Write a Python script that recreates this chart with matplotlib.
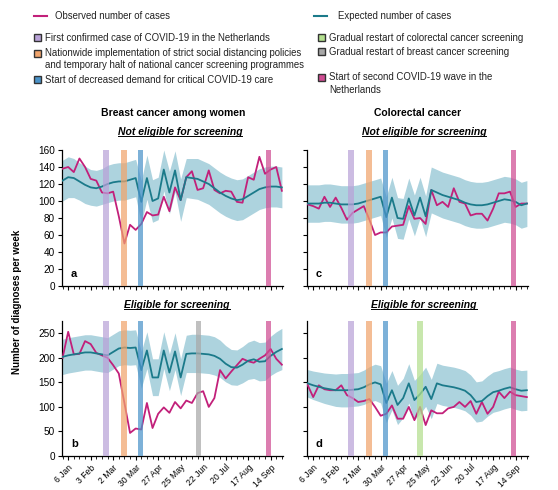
import matplotlib
matplotlib.use('Agg')
import matplotlib.pyplot as plt
import numpy as np
from matplotlib.patches import Rectangle
from matplotlib.lines import Line2D

plt.rcParams['font.family'] = ['Liberation Sans', 'DejaVu Sans']

# ---------------- data ----------------
weeks = np.arange(40)  # week 0 = 30 Dec 2019
tick_weeks = [1, 5, 9, 13, 17, 21, 25, 29, 33, 37]
tick_labels = ['6 Jan', '3 Feb', '2 Mar', '30 Mar', '27 Apr', '25 May',
               '22 Jun', '20 Jul', '17 Aug', '14 Sep']

# event weeks (position of shaded vertical bars)
ev_first_case = 7.7
ev_lockdown = 10.9
ev_icu_decline = 13.9
ev_crc_restart = 20.0
ev_bc_restart = 24.2
ev_second_wave = 36.6

# a: breast cancer, not eligible
a_obs = [138, 140, 134, 150, 140, 126, 124, 110, 109, 111, 82, 50, 72, 66, 73, 87, 83, 84, 105, 88,
         116, 101, 128, 135, 113, 115, 136, 113, 109, 112, 111, 99, 98, 128, 125, 152, 132, 137, 140, 112]
a_exp = [124, 128, 127, 123, 119, 116, 115, 117, 120, 122, 123, 123, 125, 127, 99, 127, 100, 103, 137, 110,
         136, 101, 128, 127, 126, 123, 120, 115, 110, 106, 103, 101, 102, 106, 110, 114, 116, 117, 117, 116]
a_lo = [100, 104, 104, 101, 97, 95, 94, 96, 98, 100, 101, 101, 103, 105, 74, 102, 75, 78, 112, 85,
        111, 76, 104, 103, 102, 99, 96, 91, 86, 82, 79, 77, 78, 82, 86, 90, 92, 93, 93, 92]
a_hi = [148, 152, 150, 145, 141, 137, 136, 138, 142, 144, 145, 145, 147, 149, 124, 154, 125, 128, 160, 135,
        159, 126, 150, 150, 150, 147, 144, 139, 134, 130, 127, 125, 126, 130, 134, 138, 140, 141, 141, 140]

# b: breast cancer, eligible
b_obs = [200, 253, 207, 208, 234, 228, 210, 205, 200, 185, 168, 108, 47, 56, 54, 108, 57, 86, 99, 88,
         110, 97, 113, 108, 128, 132, 100, 118, 175, 158, 172, 185, 198, 193, 190, 198, 205, 218, 198, 186]
b_exp = [202, 205, 207, 209, 211, 211, 209, 207, 205, 212, 219, 221, 220, 221, 175, 215, 160, 160, 215, 170,
         213, 160, 208, 209, 209, 208, 207, 204, 198, 188, 181, 180, 186, 194, 197, 192, 193, 204, 212, 218]
b_lo = [166, 169, 171, 173, 175, 175, 173, 171, 170, 177, 184, 186, 185, 186, 138, 178, 123, 123, 178, 133,
        176, 123, 170, 170, 170, 169, 168, 165, 160, 151, 145, 144, 149, 156, 158, 153, 154, 164, 171, 176]
b_hi = [238, 241, 243, 245, 247, 247, 245, 243, 241, 248, 255, 257, 256, 257, 213, 253, 198, 198, 253, 208,
        251, 198, 246, 248, 248, 247, 246, 243, 236, 225, 217, 216, 223, 232, 236, 231, 232, 244, 253, 260]

# c: colorectal cancer, not eligible
c_obs = [96, 94, 91, 105, 93, 104, 92, 78, 86, 90, 94, 78, 60, 63, 63, 70, 71, 72, 94, 79,
         80, 73, 113, 95, 99, 93, 115, 99, 97, 83, 85, 85, 77, 91, 109, 109, 111, 93, 97, 97]
c_exp = [97, 97, 97, 98, 98, 97, 96, 96, 96, 97, 99, 101, 103, 105, 81, 104, 80, 79, 103, 83,
         104, 82, 113, 110, 107, 105, 103, 101, 98, 96, 95, 95, 96, 98, 100, 102, 101, 99, 95, 97]
c_lo = [75, 75, 75, 76, 76, 75, 74, 74, 74, 75, 77, 79, 81, 83, 57, 80, 56, 55, 79, 59,
        80, 58, 86, 83, 80, 78, 76, 74, 71, 69, 68, 68, 69, 71, 73, 75, 74, 72, 68, 70]
c_hi = [119, 119, 119, 120, 120, 119, 118, 118, 118, 119, 121, 123, 125, 127, 105, 128, 104, 103, 127, 107,
        128, 106, 140, 137, 134, 132, 130, 128, 125, 123, 122, 122, 123, 125, 127, 129, 128, 126, 122, 124]

# d: colorectal cancer, eligible
d_obs = [145, 120, 144, 136, 134, 134, 144, 124, 118, 110, 112, 116, 100, 82, 86, 103, 76, 76, 100, 73,
         100, 63, 93, 87, 87, 97, 100, 110, 100, 112, 86, 110, 86, 100, 131, 118, 131, 124, 122, 120]
d_exp = [148, 144, 141, 138, 136, 134, 134, 134, 135, 136, 140, 146, 150, 146, 108, 134, 104, 118, 148, 114,
         126, 141, 116, 148, 144, 142, 140, 137, 133, 124, 110, 112, 122, 130, 133, 137, 140, 136, 133, 134]
d_lo = [120, 115, 111, 107, 104, 101, 100, 100, 101, 102, 105, 110, 113, 108, 68, 94, 64, 78, 108, 74,
        86, 101, 76, 107, 103, 101, 99, 96, 92, 83, 69, 71, 81, 89, 92, 96, 99, 95, 92, 93]
d_hi = [176, 173, 171, 169, 168, 167, 168, 168, 169, 170, 175, 182, 187, 184, 148, 174, 144, 158, 188, 154,
        166, 181, 156, 189, 185, 183, 181, 178, 174, 165, 151, 153, 163, 171, 174, 178, 181, 177, 174, 175]

# ---------------- style ----------------
OBS_C = '#c2207a'
EXP_C = '#1b7a8a'
BAND_C = '#add3de'
C_FIRST = '#b9a2d8'
C_LOCK = '#f0a46c'
C_ICU = '#4b93c9'
C_CRC = '#b3df8e'
C_BC = '#a8a8a8'
C_WAVE = '#cf4c92'

W, H = 558, 490
fig = plt.figure(figsize=(W / 100, H / 100), dpi=100)


def fx(px):
    return px / W


def fy(py):
    return 1 - py / H


def make_panel(left, top, right, bottom, ylim, yticks, obs, exp, lo, hi, events, letter,
               show_xlabels, show_ylabels):
    ax = fig.add_axes([fx(left), fy(bottom), fx(right) - fx(left), fy(top) - fy(bottom)])
    ax.fill_between(weeks, lo, hi, color=BAND_C, lw=0, zorder=1)
    ax.plot(weeks, obs, color=OBS_C, lw=1.3, zorder=3)
    ax.plot(weeks, exp, color=EXP_C, lw=1.3, zorder=4)
    for pos, col in events:
        ax.axvspan(pos - 0.48, pos + 0.48, color=col, alpha=0.72, lw=0, zorder=5)
    ax.set_xlim(-0.1, 39.2)
    ax.set_ylim(*ylim)
    ax.set_yticks(yticks)
    for s in ['top', 'right']:
        ax.spines[s].set_visible(False)
    for s in ['left', 'bottom']:
        ax.spines[s].set_linewidth(0.9)
    ax.set_xticks(tick_weeks)
    ax.set_xticks(weeks, minor=True)
    ax.tick_params(axis='x', which='major', length=3, width=0.8, direction='out', pad=2)
    ax.tick_params(axis='x', which='minor', length=2, width=0.6, direction='out')
    ax.tick_params(axis='y', which='major', length=3, width=0.8, direction='out', labelsize=7.2, pad=2)
    if show_xlabels:
        ax.set_xticklabels(tick_labels, rotation=45, ha='right', rotation_mode='anchor', fontsize=6.2)
    else:
        ax.set_xticklabels([])
    if not show_ylabels:
        ax.set_yticklabels([])
    ax.text(0.04, 0.05, letter, transform=ax.transAxes, fontsize=8, fontweight='bold',
            ha='left', va='bottom', zorder=6)
    return ax


ev_a = [(ev_first_case, C_FIRST), (ev_lockdown, C_LOCK), (ev_icu_decline, C_ICU), (ev_second_wave, C_WAVE)]
ev_b = ev_a + [(ev_bc_restart, C_BC)]
ev_d = ev_a + [(ev_crc_restart, C_CRC)]

make_panel(62, 150, 283, 286, (0, 160), range(0, 161, 20), a_obs, a_exp, a_lo, a_hi, ev_a, 'a', False, True)
make_panel(307, 150, 528, 286, (0, 160), range(0, 161, 20), c_obs, c_exp, c_lo, c_hi, ev_a, 'c', False, False)
make_panel(62, 321, 283, 456, (0, 275), range(0, 251, 50), b_obs, b_exp, b_lo, b_hi, ev_b, 'b', True, True)
make_panel(307, 321, 528, 456, (0, 275), range(0, 251, 50), d_obs, d_exp, d_lo, d_hi, ev_d, 'd', True, False)

# titles
fig.text(fx(173), fy(113), 'Breast cancer among women', ha='center', va='center', fontsize=7.5, fontweight='bold')
fig.text(fx(418), fy(113), 'Colorectal cancer', ha='center', va='center', fontsize=7.5, fontweight='bold')

sub = []
sub.append(fig.text(fx(180), fy(132), 'Not eligible for screening', ha='center', va='center',
                    fontsize=7.5, fontweight='bold', style='italic'))
sub.append(fig.text(fx(424), fy(132), 'Not eligible for screening', ha='center', va='center',
                    fontsize=7.5, fontweight='bold', style='italic'))
sub.append(fig.text(fx(177), fy(305), 'Eligible for screening', ha='center', va='center',
                    fontsize=7.5, fontweight='bold', style='italic'))
sub.append(fig.text(fx(424), fy(305), 'Eligible for screening', ha='center', va='center',
                    fontsize=7.5, fontweight='bold', style='italic'))

fig.text(fx(17), fy(302), 'Number of diagnoses per week', rotation=90, ha='center', va='center',
         fontsize=7, fontweight='bold')

# legend
LFS = 6.9
LC = '#222222'
fig.add_artist(Line2D([fx(34), fx(47)], [fy(16), fy(16)], color=OBS_C, lw=1.5))
fig.text(fx(55), fy(16), 'Observed number of cases', fontsize=LFS, va='center', ha='left', color=LC)
fig.add_artist(Line2D([fx(314), fx(327)], [fy(16), fy(16)], color=EXP_C, lw=1.5))
fig.text(fx(338), fy(16), 'Expected number of cases', fontsize=LFS, va='center', ha='left', color=LC)


def legend_box(px, py, col, label):
    s = 7
    fig.add_artist(Rectangle((fx(px - s / 2), fy(py + s / 2)), s / W, s / H, facecolor=col,
                             edgecolor='#333333', lw=1.0, transform=fig.transFigure))
    fig.text(fx(px + 8), fy(py), label, fontsize=LFS, va='center', ha='left', color=LC)


def legend_box_multi(px, py, col, label):
    s = 7
    fig.add_artist(Rectangle((fx(px - s / 2), fy(py + s / 2)), s / W, s / H, facecolor=col,
                             edgecolor='#333333', lw=1.0, transform=fig.transFigure))
    fig.text(fx(px + 8), fy(py - 5.5), label, fontsize=LFS, va='top', ha='left', linespacing=1.3,
             color=LC)


legend_box(37, 38, C_FIRST, 'First confirmed case of COVID-19 in the Netherlands')
legend_box_multi(37, 53.5, C_LOCK, 'Nationwide implementation of strict social distancing policies\n'
                                   'and temporary halt of national cancer screening programmes')
legend_box(37, 80, C_ICU, 'Start of decreased demand for critical COVID-19 care')
legend_box(321, 38, C_CRC, 'Gradual restart of colorectal cancer screening')
legend_box(321, 52, C_BC, 'Gradual restart of breast cancer screening')
legend_box_multi(321, 78, C_WAVE, 'Start of second COVID-19 wave in the\nNetherlands')

# underline subtitles
fig.canvas.draw()
renderer = fig.canvas.get_renderer()
inv = fig.transFigure.inverted()
for t in sub:
    bb = t.get_window_extent(renderer=renderer)
    (x0, y0), (x1, y1) = inv.transform([[bb.x0, bb.y0], [bb.x1, bb.y1]])
    yline = y0 + 0.3 * (y1 - y0) * 0.25
    fig.add_artist(Line2D([x0, x1], [yline, yline], color='black', lw=0.7))

fig.savefig('out.png', dpi=100)
